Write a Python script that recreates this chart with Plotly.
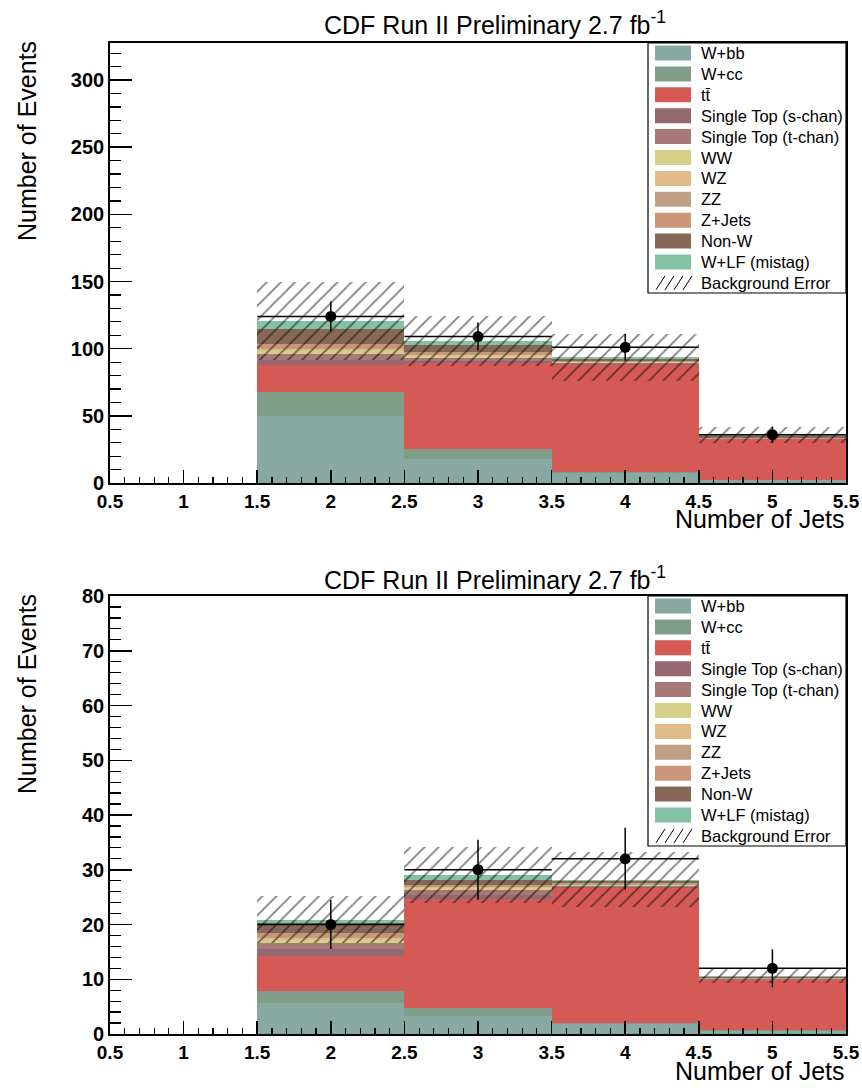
import numpy as np
import plotly.graph_objects as go

W, H = 862, 1088

# ---------------- data ----------------
njets = [2, 3, 4, 5]
labels = ["W+bb", "W+cc", "tt\u0304", "Single Top (s-chan)", "Single Top (t-chan)",
          "WW", "WZ", "ZZ", "Z+Jets", "Non-W", "W+LF (mistag)"]
colors = ["#88a9a1", "#7f9d87", "#d55a56", "#966870", "#a87878",
          "#d4d08a", "#e1bc88", "#c0a085", "#c99678", "#876857", "#83c3a3"]

# Top panel (events per jet bin)
top_wbb    = [50.0, 18.0, 7.5, 2.0]
top_wcc    = [18.0, 7.0, 1.0, 0.3]
top_tt     = [20.0, 64.5, 79.5, 30.2]
top_st_s   = [3.5, 1.5, 0.5, 0.1]
top_st_t   = [4.5, 2.0, 0.8, 0.2]
top_ww     = [2.5, 1.5, 0.5, 0.2]
top_wz     = [1.5, 1.0, 0.4, 0.1]
top_zz     = [0.5, 0.3, 0.1, 0.05]
top_zjets  = [3.0, 2.0, 0.8, 0.4]
top_nonw   = [11.0, 5.0, 1.5, 1.2]
top_wlf    = [6.0, 3.0, 1.2, 0.9]
top_bkgerr = [29.0, 18.5, 17.5, 6.2]
top_data   = [124, 109, 101, 36]

# Bottom panel
bot_wbb    = [5.7, 3.2, 1.8, 0.55]
bot_wcc    = [2.1, 1.6, 0.3, 0.1]
bot_tt     = [6.5, 19.8, 24.5, 9.25]
bot_st_s   = [1.2, 0.8, 0.2, 0.05]
bot_st_t   = [1.2, 0.9, 0.3, 0.1]
bot_ww     = [0.5, 0.3, 0.1, 0.05]
bot_wz     = [0.4, 0.25, 0.1, 0.03]
bot_zz     = [0.1, 0.05, 0.02, 0.01]
bot_zjets  = [0.7, 0.3, 0.2, 0.1]
bot_nonw   = [1.8, 1.0, 0.4, 0.15]
bot_wlf    = [0.7, 0.8, 0.3, 0.15]
bot_bkgerr = [4.3, 5.1, 5.1, 1.3]
bot_data   = [20, 30, 32, 12]

title_text = "CDF Run II Preliminary 2.7 fb<sup>-1</sup>"
xtitle = "Number of Jets"
ytitle = "Number of Events"
err_label = "Background Error"

top_comps = [top_wbb, top_wcc, top_tt, top_st_s, top_st_t, top_ww, top_wz,
             top_zz, top_zjets, top_nonw, top_wlf]
bot_comps = [bot_wbb, bot_wcc, bot_tt, bot_st_s, bot_st_t, bot_ww, bot_wz,
             bot_zz, bot_zjets, bot_nonw, bot_wlf]

FONT = "Liberation Sans, Arial, Helvetica, sans-serif"

fig = go.Figure()


def add_panel(comps, bkgerr, data, xa, ya):
    base = np.zeros(len(njets))
    for lab, col, vals in zip(labels, colors, comps):
        v = np.array(vals, dtype=float)
        fig.add_trace(go.Bar(x=njets, y=v, base=base.copy(), width=1.0,
                             marker=dict(color=col, line=dict(width=0)),
                             name=lab, showlegend=False, xaxis=xa, yaxis=ya))
        base = base + v
    err = np.array(bkgerr, dtype=float)
    fig.add_trace(go.Bar(x=njets, y=2 * err, base=base - err, width=1.0,
                         marker=dict(color="rgba(0,0,0,0)", line=dict(width=0),
                                     pattern=dict(shape="/", fgcolor="black",
                                                  bgcolor="rgba(0,0,0,0)",
                                                  size=10, solidity=0.18)),
                         name=err_label, showlegend=False, xaxis=xa, yaxis=ya))
    d = np.array(data, dtype=float)
    fig.add_trace(go.Scatter(x=njets, y=d, mode="markers",
                             marker=dict(color="black", size=11),
                             error_y=dict(type="data", array=np.sqrt(d), width=0,
                                          thickness=1.5, color="black"),
                             error_x=dict(type="constant", value=0.5, width=0,
                                          thickness=1.5, color="black"),
                             showlegend=False, xaxis=xa, yaxis=ya))


add_panel(top_comps, top_bkgerr, top_data, "x", "y")
add_panel(bot_comps, bot_bkgerr, bot_data, "x2", "y2")


def px(x):
    return x / W


def py(y):
    return 1 - y / H


top_box = (43, 483)
bot_box = (596, 1034)
xl, xr = 110, 846

common_x = dict(range=[0.5, 5.5], tick0=0.5, dtick=0.5, ticks="inside", ticklen=13,
                tickwidth=1.5, tickcolor="black", showline=True, linecolor="black",
                linewidth=1.8, mirror=True, showgrid=False, zeroline=False,
                tickfont=dict(family=FONT, size=19, color="black", weight="bold"),
                minor=dict(dtick=0.1, ticks="inside", ticklen=6, tickwidth=1.2,
                           tickcolor="black", showgrid=False),
                domain=[px(xl), px(xr)], ticklabelstandoff=0, automargin=False)

fig.update_layout(
    width=W, height=H, margin=dict(l=0, r=0, t=0, b=0, pad=0, autoexpand=False),
    paper_bgcolor="white", plot_bgcolor="white", barmode="overlay", bargap=0,
    showlegend=False,
    xaxis=dict(**common_x, anchor="y"),
    yaxis=dict(range=[0, 327.6], dtick=50, ticks="inside", ticklen=22, tickwidth=1.5,
               tickcolor="black", showline=True, linecolor="black", linewidth=1.8,
               mirror=True, showgrid=False, zeroline=False, automargin=False,
               tickfont=dict(family=FONT, size=20, color="black", weight="bold"),
               minor=dict(dtick=10, ticks="inside", ticklen=11, tickwidth=1.2,
                          tickcolor="black", showgrid=False),
               domain=[py(top_box[1]), py(top_box[0])], anchor="x"),
    xaxis2=dict(**common_x, anchor="y2"),
    yaxis2=dict(range=[0, 80], dtick=10, ticks="inside", ticklen=22, tickwidth=1.5,
                tickcolor="black", showline=True, linecolor="black", linewidth=1.8,
                mirror=True, showgrid=False, zeroline=False, automargin=False,
                tickfont=dict(family=FONT, size=20, color="black", weight="bold"),
                minor=dict(dtick=2, ticks="inside", ticklen=11, tickwidth=1.2,
                           tickcolor="black", showgrid=False),
                domain=[py(bot_box[1]), py(bot_box[0])], anchor="x2"),
)

annotations = []
shapes = []

for (t, b), title_y, xt_y in [(top_box, 23, 519), (bot_box, 578, 1071)]:
    annotations.append(dict(text=title_text, x=px(495), y=py(title_y), xref="paper",
                            yref="paper", xanchor="center", yanchor="middle",
                            showarrow=False,
                            font=dict(family=FONT, size=25, color="black")))
    annotations.append(dict(text=xtitle, x=px(847), y=py(xt_y), xref="paper",
                            yref="paper", xanchor="right", yanchor="middle",
                            showarrow=False,
                            font=dict(family=FONT, size=25, color="black")))
    annotations.append(dict(text=ytitle, x=px(27), y=py(t - 4), xref="paper",
                            yref="paper", xanchor="center", yanchor="top",
                            textangle=-90, showarrow=False,
                            font=dict(family=FONT, size=25, color="black")))

    # legend box
    lx0, lx1 = 648, 846
    ly0, ly1 = t, t + 250
    shapes.append(dict(type="rect", xref="paper", yref="paper", x0=px(lx0), x1=px(lx1),
                       y0=py(ly0), y1=py(ly1), line=dict(color="black", width=1.2),
                       fillcolor="white", layer="above"))
    step = 20.9
    for i, lab in enumerate(labels + [err_label]):
        cy = t + 10 + i * step
        if i < len(labels):
            shapes.append(dict(type="rect", xref="paper", yref="paper",
                               x0=px(655), x1=px(691), y0=py(cy - 7.5), y1=py(cy + 7.5),
                               line=dict(width=0), fillcolor=colors[i], layer="above"))
        else:
            for k in range(4):
                xs = 656 + k * 9
                shapes.append(dict(type="line", xref="paper", yref="paper",
                                   x0=px(xs), y0=py(cy + 7), x1=px(xs + 9), y1=py(cy - 7),
                                   line=dict(color="black", width=1), layer="above"))
        annotations.append(dict(text=lab, x=px(699), y=py(cy), xref="paper", yref="paper",
                                xanchor="left", yanchor="middle", showarrow=False,
                                font=dict(family=FONT, size=16.5, color="black")))

fig.update_layout(annotations=annotations, shapes=shapes)
fig.write_html("out.html",
               config={"displayModeBar": False, "staticPlot": True},
               post_script="document.body.style.margin='0px';"
                           "document.body.style.overflow='hidden';")
